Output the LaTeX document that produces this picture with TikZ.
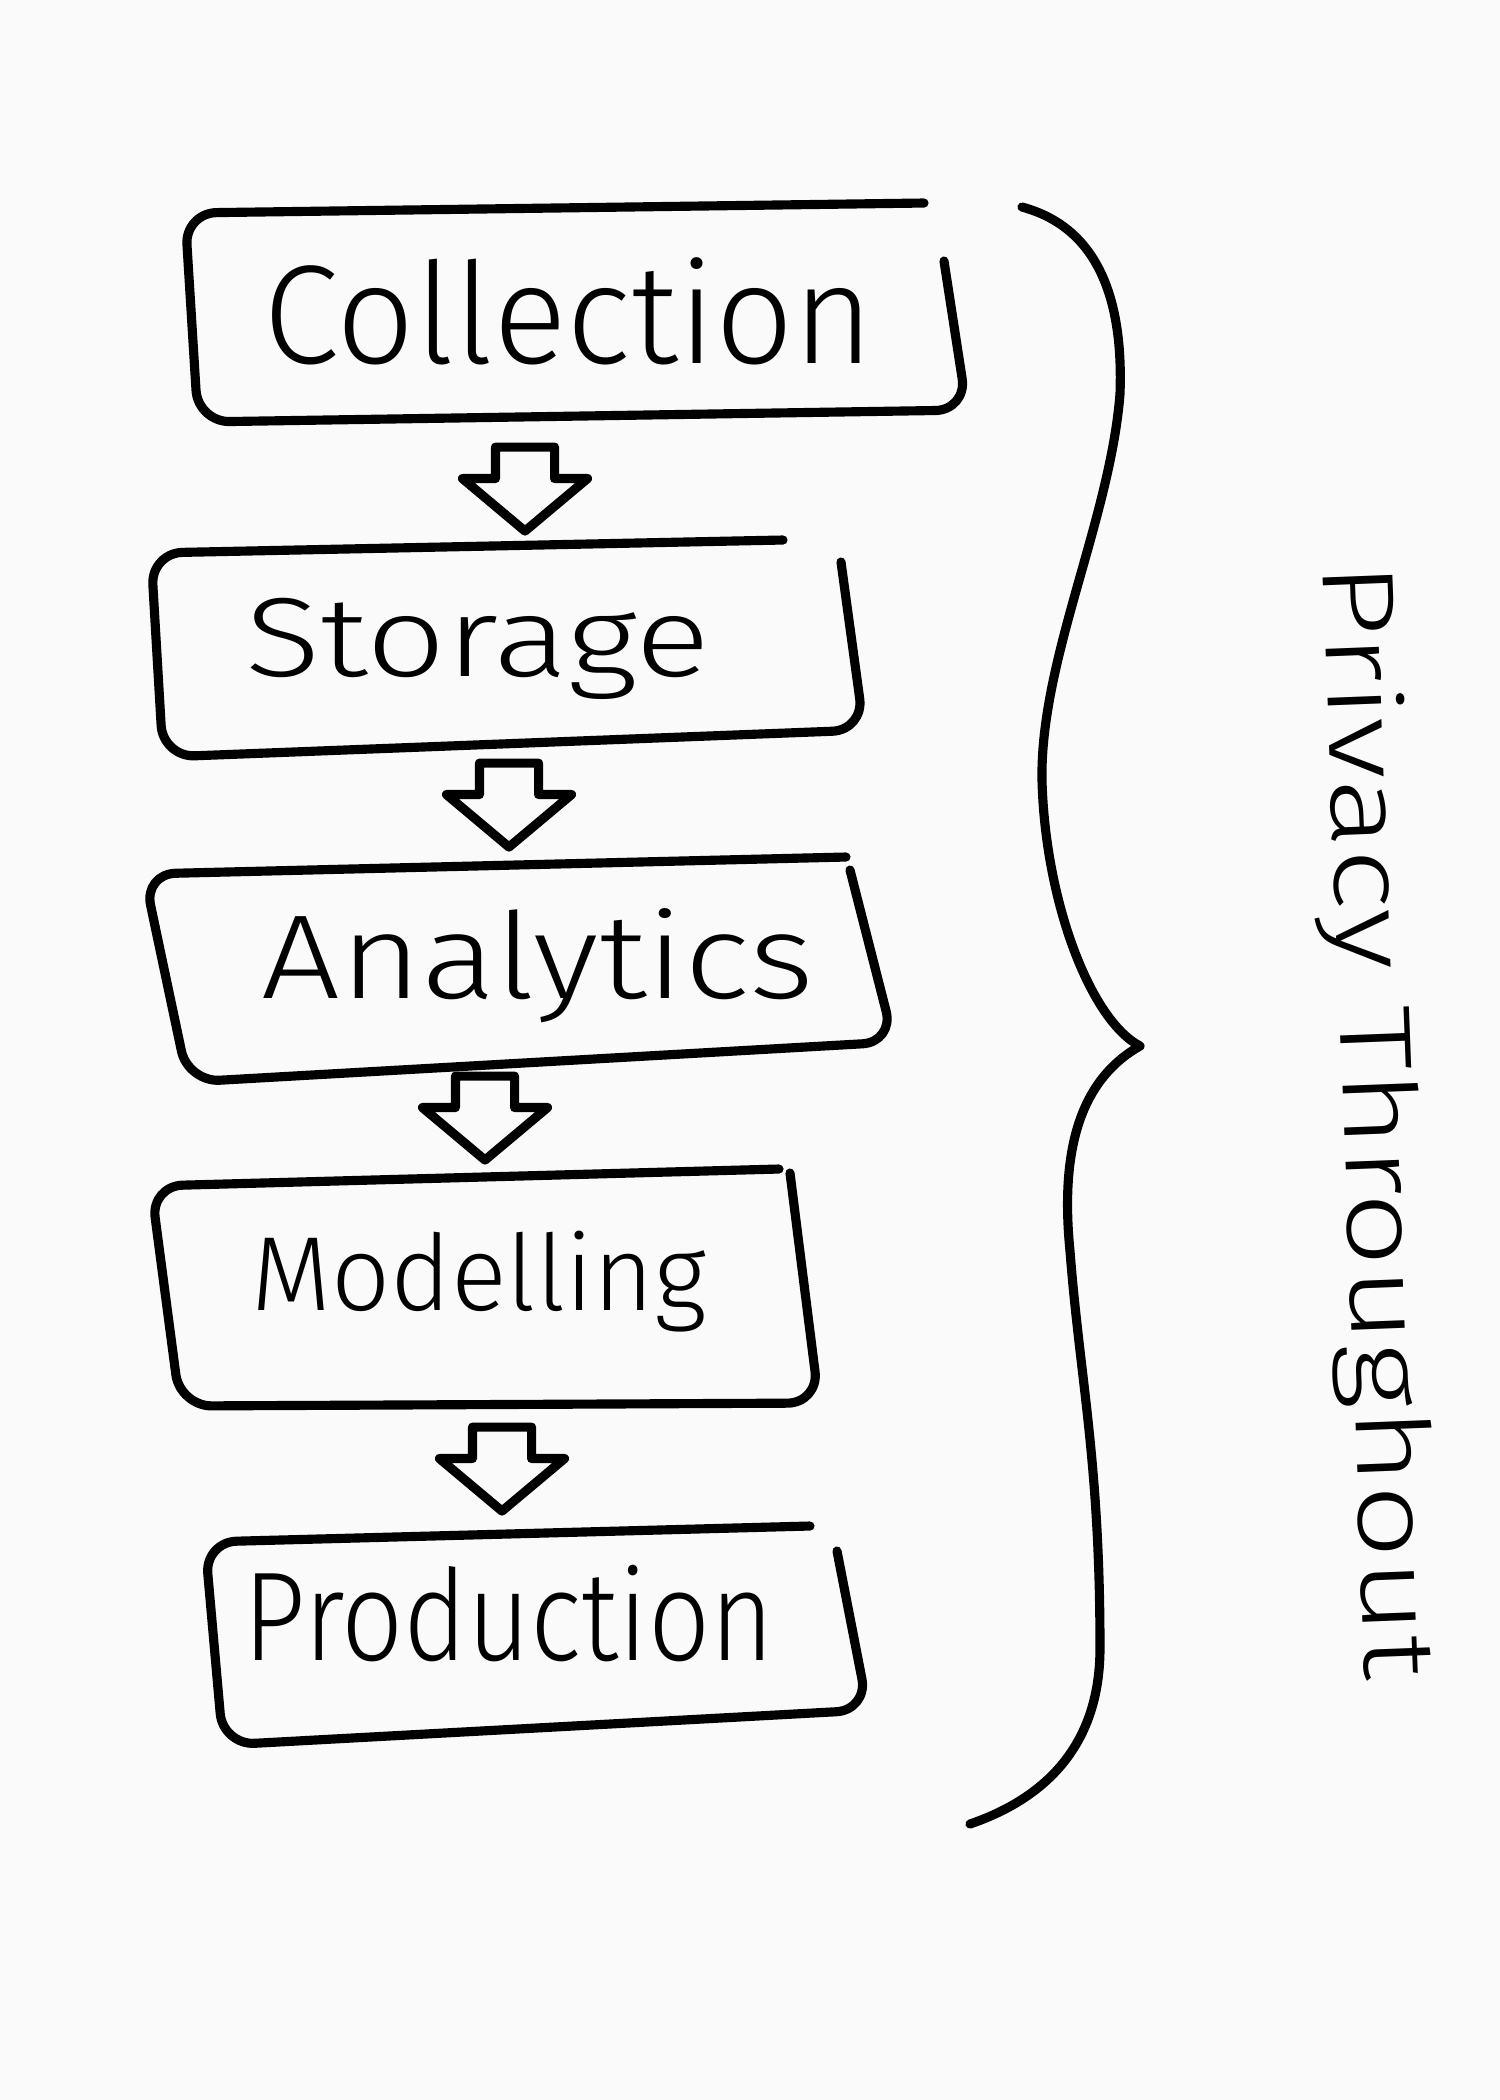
\documentclass[tikz,border=0pt]{standalone}
\usepackage{fontspec}
\IfFontExistsTF{Fira Sans Light}{\setmainfont{Fira Sans Light}}{%
  \IfFontExistsTF{Open Sans Light}{\setmainfont{Open Sans Light}}{\setmainfont{Noto Sans}}}
\usetikzlibrary{shapes.arrows}
\definecolor{paper}{RGB}{250,250,250}
\newcommand{\handlabel}[3]{\resizebox{#1}{\height}{\fontsize{#2}{#2}\selectfont #3}}
\tikzset{
  ink/.style={line width=2.6pt, line cap=round, line join=round, draw=black},
  boxline/.style={ink, rounded corners=9pt},
  stagelabel/.style={inner sep=0pt, anchor=base},
  downarrow/.style={single arrow, ink, rotate=-90, anchor=tip, inner sep=0.25cm,
    minimum height=0.82cm, single arrow head extend=0.33cm, single arrow tip angle=100},
}
\begin{document}
\begin{tikzpicture}
\fill[paper] (0,0) rectangle (15,-21);
\useasboundingbox (0,0) rectangle (15,-21);

% stage labels
\node[stagelabel] (collection) at (5.69,-3.63) {\handlabel{6.1cm}{40pt}{Collection}};
\node[stagelabel] (storage)    at (4.78,-6.76) {\handlabel{4.65cm}{32pt}{Storage}};
\node[stagelabel] (analytics)  at (5.38,-9.98) {\handlabel{5.53cm}{34pt}{Analytics}};
\node[stagelabel] (modelling)  at (4.79,-13.10) {\handlabel{4.55cm}{30pt}{Modelling}};
\node[stagelabel] (production) at (5.09,-16.60) {\handlabel{5.3cm}{36pt}{Production}};

% hand-drawn boxes (open at the top-right corner)
\draw[boxline] (9.24,-2.03) -- (1.85,-2.13) -- (1.98,-4.22) -- (9.67,-4.10) -- (9.44,-2.61);
\draw[boxline] (7.83,-5.40) -- (1.51,-5.53) -- (1.63,-7.57) -- (8.64,-7.30) -- (8.41,-5.62);
\draw[boxline] (8.46,-8.57) -- (1.44,-8.74) -- (1.88,-10.82) -- (8.94,-10.42) -- (8.50,-8.70);
\draw[boxline] (7.79,-11.69) -- (1.51,-11.86) -- (1.80,-14.06) -- (8.19,-14.03) -- (7.90,-11.73);
\draw[boxline] (8.10,-15.26) -- (2.05,-15.42) -- (2.23,-17.45) -- (8.68,-17.10) -- (8.37,-15.51);

% block arrows between stages
\node[downarrow] (a1) at (5.25,-5.37) {};
\node[downarrow] (a2) at (5.09,-8.53) {};
\node[downarrow] (a3) at (4.85,-11.66) {};
\node[downarrow] (a4) at (5.02,-15.17) {};

% curly brace
\coordinate (bracetop) at (10.22,-2.07);
\coordinate (bracetip) at (11.40,-10.46);
\coordinate (bracebot) at (9.70,-18.24);
\draw[ink] (bracetop) .. controls (10.70,-2.20) and (11.25,-2.60) .. (11.20,-3.94)
  .. controls (11.10,-5.20) and (10.40,-6.60) .. (10.42,-7.80)
  .. controls (10.45,-9.00) and (10.90,-10.20) .. (bracetip)
  .. controls (10.80,-10.80) and (10.60,-11.50) .. (10.70,-12.51)
  .. controls (10.80,-13.80) and (11.00,-14.60) .. (11.00,-16.48)
  .. controls (11.00,-17.50) and (10.40,-18.00) .. (bracebot);

% side label
\node[inner sep=0pt, anchor=base, rotate=-87.8] (privacy) at (13.44,-11.22)
  {\handlabel{11.18cm}{29pt}{Privacy Throughout}};
\end{tikzpicture}
\end{document}
